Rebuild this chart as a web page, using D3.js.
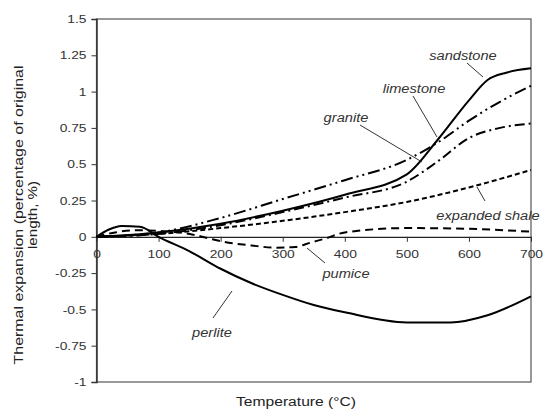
<!DOCTYPE html>
<html><head><meta charset="utf-8">
<script src="https://cdn.jsdelivr.net/npm/d3@7"></script>
<style>body{margin:0;background:#fff}svg{display:block;font-family:"Liberation Sans",Arial,sans-serif}</style>
</head><body>
<svg id="c" width="543" height="411"></svg>
<script>
const xTicks = [0,100,200,300,400,500,600,700];
const yTicks = [-1,-0.75,-0.5,-0.25,0,0.25,0.5,0.75,1,1.25,1.5];
const yTickLabels = ["-1","-0.75","-0.5","-0.25","0","0.25","0.5","0.75","1","1.25","1.5"];

const sandstoneT = [0,100,200,300,400,500,550,600,630,660,700];
const sandstoneV = [0,0.03,0.09,0.18,0.29,0.43,0.67,0.94,1.08,1.13,1.16];
const limestoneT = [0,100,200,300,400,500,550,600,650,700];
const limestoneV = [0,0.03,0.13,0.26,0.39,0.53,0.65,0.80,0.93,1.04];
const graniteT = [0,100,200,300,400,500,550,600,650,700];
const graniteV = [0,0.02,0.08,0.17,0.27,0.38,0.52,0.68,0.75,0.78];
const shaleT = [0,100,200,300,400,500,600,700];
const shaleV = [0,0.02,0.06,0.11,0.17,0.24,0.34,0.46];
const pumiceT = [0,30,60,100,150,180,200,250,290,320,345,370,400,500,600,700];
const pumiceV = [0,0.03,0.045,0.04,0.02,-0.01,-0.03,-0.06,-0.075,-0.07,-0.04,-0.01,0.03,0.06,0.055,0.035];
const perliteT = [0,20,40,70,100,150,200,250,300,350,400,500,570,630,700];
const perliteV = [0,0.05,0.075,0.07,0,-0.1,-0.22,-0.32,-0.4,-0.47,-0.52,-0.59,-0.59,-0.54,-0.41];

const labels = [
  {text:"sandstone", x:463, y:60, l:[467,63,483,77]},
  {text:"limestone", x:414, y:93, l:[413,96,437,137]},
  {text:"granite", x:346, y:122, l:[360,125,422,162]},
  {text:"expanded shale", x:488, y:220, l:[477,187,485,201]},
  {text:"pumice", x:346, y:278, l:[307,248,325,263]},
  {text:"perlite", x:212, y:337, l:[213,318,232,291]}
];

const svg = d3.select("#c");
const L=96.5, R=531, T=19, B=382;
const x = d3.scaleLinear().domain([0,700]).range([L,R]);
const y = d3.scaleLinear().domain([-1,1.5]).range([B,T]);

function stretch(sel, k){
  sel.each(function(){
    const w = this.getComputedTextLength();
    d3.select(this).attr("textLength", w*k).attr("lengthAdjust","spacingAndGlyphs");
  });
}

// plot frame
svg.append("rect").attr("x",L).attr("y",T).attr("width",R-L).attr("height",B-T)
  .attr("fill","none").attr("stroke","#555").attr("stroke-width",1.2);

// y axis
const ya = svg.append("g").attr("transform",`translate(${L},0)`)
  .call(d3.axisLeft(y).tickValues(yTicks).tickSize(5).tickPadding(5).tickFormat((d,i)=>yTickLabels[i]));
ya.select(".domain").attr("stroke","#333").attr("stroke-width",1.5);
ya.selectAll("line").attr("stroke","#333");
ya.selectAll("text").attr("font-size",11.5).attr("fill","#333").attr("font-family","Liberation Sans, Arial, sans-serif");
stretch(ya.selectAll("text"),1.2);

// x axis at y=0
const xa = svg.append("g").attr("transform",`translate(0,${y(0)})`)
  .call(d3.axisBottom(x).tickValues(xTicks).tickSize(5).tickSizeOuter(0).tickPadding(8));
xa.select(".domain").attr("stroke","#222").attr("stroke-width",1.3);
xa.selectAll("line").attr("stroke","#333");
xa.selectAll("text").attr("font-size",11.5).attr("fill","#333").attr("font-family","Liberation Sans, Arial, sans-serif");
stretch(xa.selectAll("text"),1.2);

const line = d3.line().x(d=>x(d[0])).y(d=>y(d[1])).curve(d3.curveMonotoneX);
const series = [
  {t:perliteT, v:perliteV, dash:null, w:2},
  {t:pumiceT, v:pumiceV, dash:"8,5", w:2},
  {t:shaleT, v:shaleV, dash:"5,3", w:2},
  {t:graniteT, v:graniteV, dash:"10,4,2,4", w:2},
  {t:limestoneT, v:limestoneV, dash:"12,4,2,4,2,4", w:2},
  {t:sandstoneT, v:sandstoneV, dash:null, w:2}
];
series.forEach(s=>{
  svg.append("path").datum(s.t.map((t,i)=>[t,s.v[i]]))
    .attr("d",line).attr("fill","none").attr("stroke","#000")
    .attr("stroke-width",s.w).attr("stroke-dasharray",s.dash);
});

labels.forEach(o=>{
  svg.append("line").attr("x1",o.l[0]).attr("y1",o.l[1]).attr("x2",o.l[2]).attr("y2",o.l[3])
    .attr("stroke","#333").attr("stroke-width",1);
  const t = svg.append("text").attr("x",o.x).attr("y",o.y).attr("text-anchor","middle")
    .attr("font-size",12.5).attr("font-style","italic").attr("fill","#333").text(o.text);
  stretch(t,1.17);
});

// axis titles
const xt = svg.append("text").attr("x",296).attr("y",406).attr("text-anchor","middle")
  .attr("font-size",12.5).attr("fill","#222").text("Temperature (°C)");
stretch(xt,1.25);
const yt = svg.append("text").attr("transform","translate(23,215) rotate(-90)")
  .attr("text-anchor","middle").attr("font-size",12.5).attr("fill","#222");
const t1 = yt.append("tspan").attr("x",0).attr("dy",0).text("Thermal expansion (percentage of original");
const t2 = yt.append("tspan").attr("x",0).attr("dy",14).text("length, %)");
t1.attr("textLength", 299).attr("lengthAdjust","spacingAndGlyphs");
t2.attr("textLength", 68).attr("lengthAdjust","spacingAndGlyphs");
</script>
</body></html>
